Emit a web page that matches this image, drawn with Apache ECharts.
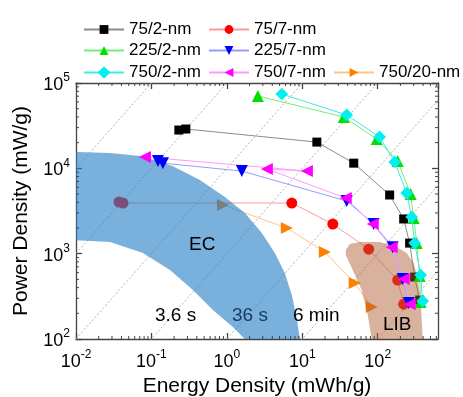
<!DOCTYPE html>
<html><head><meta charset="utf-8">
<script src="https://cdn.jsdelivr.net/npm/echarts@6/dist/echarts.min.js"></script>
<style>html,body{margin:0;padding:0;background:#fff}#c{width:463px;height:397px}</style>
</head><body><div id="c"></div>
<script>
// ---- data (Energy density mWh/g, Power density mW/g) ----
const seriesNames = ['75/2-nm','75/7-nm','225/2-nm','225/7-nm','750/2-nm','750/7-nm','750/20-nm'];
const e75_2 = [0.231, 0.286, 15.6, 48.1, 144, 221, 265, 309, 360];
const p75_2 = [28100, 28900, 20300, 11500, 4870, 2550, 1330, 532, 286];
const e75_7 = [0.0372, 0.042, 7.26, 25.4, 76.0, 184, 221];
const p75_7 = [4030, 3920, 3920, 2220, 1130, 490, 256];
const e225_2 = [2.58, 35.5, 97.0, 184, 273, 300, 329, 360, 371];
const p225_2 = [70500, 39900, 22000, 12200, 5000, 2610, 1330, 546, 271];
const e225_7 = [0.122, 0.142, 1.58, 38.8, 88.5, 158, 214, 258];
const p225_7 = [12200, 11500, 9290, 4140, 2220, 1190, 504, 264];
const e750_2 = [5.35, 38.8, 106, 168, 242, 282, 309, 371, 395];
const p750_2 = [74300, 42200, 23300, 11900, 5130, 2690, 1330, 561, 278];
const e750_7 = [0.082, 11.5, 3.39, 37.7, 85.9, 153, 221, 265];
const p750_7 = [13600, 9290, 9820, 4490, 2220, 1190, 504, 256];
const e750_20 = [0.885, 6.24, 19.9, 49.5, 83.4];
const p750_20 = [3720, 1995, 1045, 452, 237];

// regions (E, P)
const ecRegion = [[0.01,15500],[0.0282,15100],[0.0771,13900],[0.193,10600],[0.439,7290],[0.942,4610],[1.73,2990],[2.91,1750],[4.33,1020],[5.86,593],[7.26,327],[8.45,176],[9.27,100],
  [1.73,100],[1.20,138],[0.653,218],[0.355,374],[0.176,643],[0.0771,1016],[0.0282,1370],[0.01,1440]];
const libRegion = [[37.7,1100],[42.6,1300],[57.8,1370],[106,1370],[168,1230],[242,1016],[300,776],[339,518],[371,286],[395,100],[83.4,100],[73.8,191],[61.4,374],[45.3,678],[37.7,964]];

// constant-time lines (hours)
const timeConstants = [1e-7,1e-6,1e-5,1e-4,1e-3,1e-2,1e-1,1];

// axes
const xMin = 0.01, xMax = 630, yMin = 100, yMax = 1e5;
const xMinorTicks = [], yMinorTicks = [];
for (let n = -2; n <= 2; n++) for (let k = 2; k <= 9; k++) { const v = k*Math.pow(10,n); if (v < xMax) xMinorTicks.push(v); }
for (let n = 2; n <= 4; n++) for (let k = 2; k <= 9; k++) yMinorTicks.push(k*Math.pow(10,n));

const FONT = 'Liberation Sans';
const chart = echarts.init(document.getElementById('c'));

function zip(a,b){ return a.map((v,i)=>[v,b[i]]); }
function expLabel(v){ const n = Math.round(Math.log10(v)); return '{b|10}{s|' + n + '}'; }
const richLab = { b:{fontSize:18, fontFamily:FONT, color:'#000', lineHeight:22, verticalAlign:'bottom'}, s:{fontSize:12, fontFamily:FONT, color:'#000', lineHeight:12, verticalAlign:'top'} };

const styles = [
  {sym:'rect', size:9, rot:0, c:'#000000', lc:'#8c8c8c', z:2},
  {sym:'circle', size:11, rot:0, c:'#ff0000', lc:'#ff9a9a', z:2},
  {sym:'triangle', size:12, rot:0, c:'#00e000', lc:'#70f070', z:5},
  {sym:'triangle', size:12, rot:180, c:'#0000ff', lc:'#9a9aff', z:5},
  {sym:'rect', size:9, rot:45, c:'#00f0f0', lc:'#40e8e8', z:6},
  {sym:'triangle', size:12, rot:90, c:'#ff00ff', lc:'#ff9aff', z:5},
  {sym:'triangle', size:12, rot:-90, c:'#ff8000', lc:'#ffc488', z:2}
];
const dataSets = [zip(e75_2,p75_2), zip(e75_7,p75_7), zip(e225_2,p225_2), zip(e225_7,p225_7), zip(e750_2,p750_2), zip(e750_7,p750_7), zip(e750_20,p750_20)];

const series = [];
// constant-time dotted lines
timeConstants.forEach(t => {
  series.push({type:'line', data:[[1e-4, 1e-4/t],[1e4, 1e4/t]], symbol:'none', silent:true, z:1,
    lineStyle:{color:'#b0b0b0', width:1, type:[2,2]}, clip:true, animation:false});
});
// regions
function regionSeries(pts, color, opacity, z){
  return {type:'custom', data:pts, z:z, silent:true, animation:false, clip:true,
    renderItem:(params, api) => {
      if (params.dataIndex !== 0) return null;
      return {type:'polygon', shape:{points: pts.map(p => api.coord(p))}, style:{fill:color, opacity:opacity}};
    }};
}
series.push(regionSeries(ecRegion, 'rgb(40,128,199)', 0.62, 3));
series.push(regionSeries(libRegion, 'rgb(175,95,50)', 0.48, 3));
// data series
seriesNames.forEach((nm,i) => {
  const s = styles[i];
  series.push({name:nm, type:'line', data:dataSets[i], symbol:s.sym, symbolSize:s.size, symbolRotate:s.rot, z:s.z,
    showAllSymbol:true, animation:false,
    itemStyle:{color:s.c, opacity:1}, lineStyle:{color:s.lc, width:1}});
});
// minor ticks (on all four sides)
series.push({type:'custom', data:[[1,1000]], z:10, silent:true, animation:false,
  renderItem:(params, api) => {
    const ch = [];
    const st = {stroke:'#444', lineWidth:1};
    xMinorTicks.forEach(v => {
      const b = api.coord([v, yMin]), t = api.coord([v, yMax]);
      ch.push({type:'line', shape:{x1:b[0],y1:b[1],x2:b[0],y2:b[1]-3}, style:st});
      ch.push({type:'line', shape:{x1:t[0],y1:t[1],x2:t[0],y2:t[1]+3}, style:st});
    });
    yMinorTicks.forEach(v => {
      const l = api.coord([xMin, v]), r = api.coord([xMax, v]);
      ch.push({type:'line', shape:{x1:l[0],y1:l[1],x2:l[0]+3,y2:l[1]}, style:st});
      ch.push({type:'line', shape:{x1:r[0],y1:r[1],x2:r[0]-3,y2:r[1]}, style:st});
    });
    return {type:'group', children:ch};
  }});

const legendPos = [[83,21],[208,21],[83,42],[208,42],[83,64],[208,64],[333,64]];
const legends = seriesNames.map((nm,i) => ({data:[nm], left:legendPos[i][0], top:legendPos[i][1], padding:0,
  itemWidth:40, itemHeight:11, selectedMode:false,
  textStyle:{fontSize:17, fontFamily:FONT, color:'#000'}}));

const axisLineStyle = {color:'#444', width:1.3};
const option = {
  backgroundColor:'#fff',
  animation:false,
  grid:{left:76, right:25, top:83, bottom:58, containLabel:false, outerBoundsMode:'none'},
  legend: legends,
  xAxis:[
    {type:'log', logBase:10, min:xMin, max:xMax, position:'bottom',
     axisLine:{show:true, lineStyle:axisLineStyle}, axisTick:{show:true, inside:true, length:6, lineStyle:axisLineStyle},
     axisLabel:{formatter:expLabel, rich:richLab, margin:10, showMaxLabel:false},
     splitLine:{show:false}, minorTick:{show:false},
     name:'Energy Density (mWh/g)', nameLocation:'middle', nameGap:34,
     nameTextStyle:{fontSize:21, fontFamily:FONT, color:'#000'}},
    {type:'log', logBase:10, min:xMin, max:xMax, position:'top',
     axisLine:{show:true, lineStyle:axisLineStyle}, axisTick:{show:true, inside:true, length:6, lineStyle:axisLineStyle},
     axisLabel:{show:false}, splitLine:{show:false}}
  ],
  yAxis:[
    {type:'log', logBase:10, min:yMin, max:yMax, position:'left',
     axisLine:{show:true, lineStyle:axisLineStyle}, axisTick:{show:true, inside:true, length:6, lineStyle:axisLineStyle},
     axisLabel:{formatter:expLabel, rich:richLab, margin:6},
     splitLine:{show:false},
     name:'Power Density (mW/g)', nameLocation:'middle', nameGap:44, nameRotate:90,
     nameTextStyle:{fontSize:21, fontFamily:FONT, color:'#000'}},
    {type:'log', logBase:10, min:yMin, max:yMax, position:'right',
     axisLine:{show:true, lineStyle:axisLineStyle}, axisTick:{show:true, inside:true, length:6, lineStyle:axisLineStyle},
     axisLabel:{show:false}, splitLine:{show:false}}
  ],
  graphic:[
    {type:'text', left:189, top:235, z:20, style:{text:'EC', fontSize:19, fontFamily:FONT, fill:'#000'}},
    {type:'text', left:155, top:306, z:20, style:{text:'3.6 s', fontSize:19, fontFamily:FONT, fill:'#000'}},
    {type:'text', left:232, top:306, z:20, style:{text:'36 s', fontSize:19, fontFamily:FONT, fill:'#163a5e'}},
    {type:'text', left:293, top:306, z:20, style:{text:'6 min', fontSize:19, fontFamily:FONT, fill:'#000'}},
    {type:'text', left:383, top:315, z:20, style:{text:'LIB', fontSize:19, fontFamily:FONT, fill:'#000'}}
  ],
  series: series
};
chart.setOption(option);
</script></body></html>
